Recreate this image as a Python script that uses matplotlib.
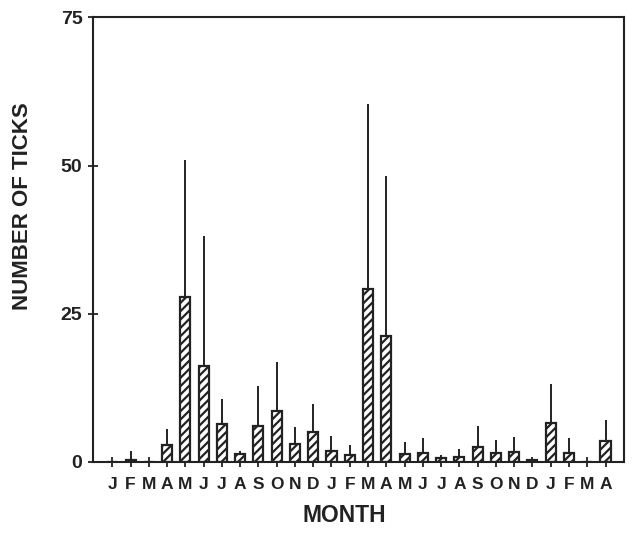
import matplotlib
matplotlib.use("Agg")
import matplotlib.pyplot as plt
import numpy as np

plt.rcParams['font.family'] = ['Liberation Sans', 'DejaVu Sans']
plt.rcParams['hatch.linewidth'] = 1.6

months = ["J", "F", "M", "A", "M", "J", "J", "A", "S", "O", "N", "D",
          "J", "F", "M", "A", "M", "J", "J", "A", "S", "O", "N", "D",
          "J", "F", "M", "A"]
means = [0.0, 0.3, 0.0, 2.9, 27.8, 16.2, 6.4, 1.3, 6.1, 8.6, 3.1, 5.1,
         1.9, 1.1, 29.2, 21.3, 1.4, 1.5, 0.6, 0.8, 2.5, 1.5, 1.7, 0.4,
         6.5, 1.5, 0.0, 3.5]
upper = [0.0, 1.8, 0.0, 5.6, 50.9, 38.1, 10.7, 1.9, 12.8, 16.9, 5.9, 9.8,
         4.4, 2.9, 60.3, 48.3, 3.4, 4.1, 1.1, 2.2, 6.0, 3.7, 4.2, 0.4,
         13.1, 4.1, 0.0, 7.0]
yticks = [0, 25, 50, 75]

fig = plt.figure(figsize=(6.32, 5.37), dpi=100)
ax = fig.add_axes([0.147, 0.1397, 0.840, 0.828])

x = np.arange(len(months))
m = np.array(means)
err = np.array(upper) - m
ax.bar(x, m, width=0.55, color='white', edgecolor='#222222', linewidth=1.6,
       hatch='////', zorder=2)
ax.errorbar(x, m, yerr=[np.zeros_like(err), err], fmt='none',
            ecolor='#222222', elinewidth=1.4, capsize=0, zorder=3)

ax.set_xlim(-1.06, 28.0)
ax.set_ylim(0, 75)
ax.set_xticks(x)
ax.set_xticklabels(months, fontsize=12.5, fontweight='bold', color='#222222')
ax.set_yticks(yticks)
ax.set_yticklabels([str(t) for t in yticks], fontsize=14, fontweight='bold',
                   color='#222222')
ax.tick_params(axis='both', direction='inout', length=7, width=1.3,
               colors='#222222', pad=4)
ax.tick_params(axis='x', pad=7)
for s in ax.spines.values():
    s.set_linewidth(1.5)
    s.set_color('#222222')

ax.set_xlabel('MONTH', fontsize=16.5, fontweight='bold', color='#222222',
              labelpad=4)
ax.xaxis.set_label_coords(0.473, -0.095)
ax.set_ylabel('NUMBER OF TICKS', fontsize=16, fontweight='bold',
              color='#222222')
ax.yaxis.set_label_coords(-0.112, 0.575)

fig.savefig('out.png', dpi=100)
